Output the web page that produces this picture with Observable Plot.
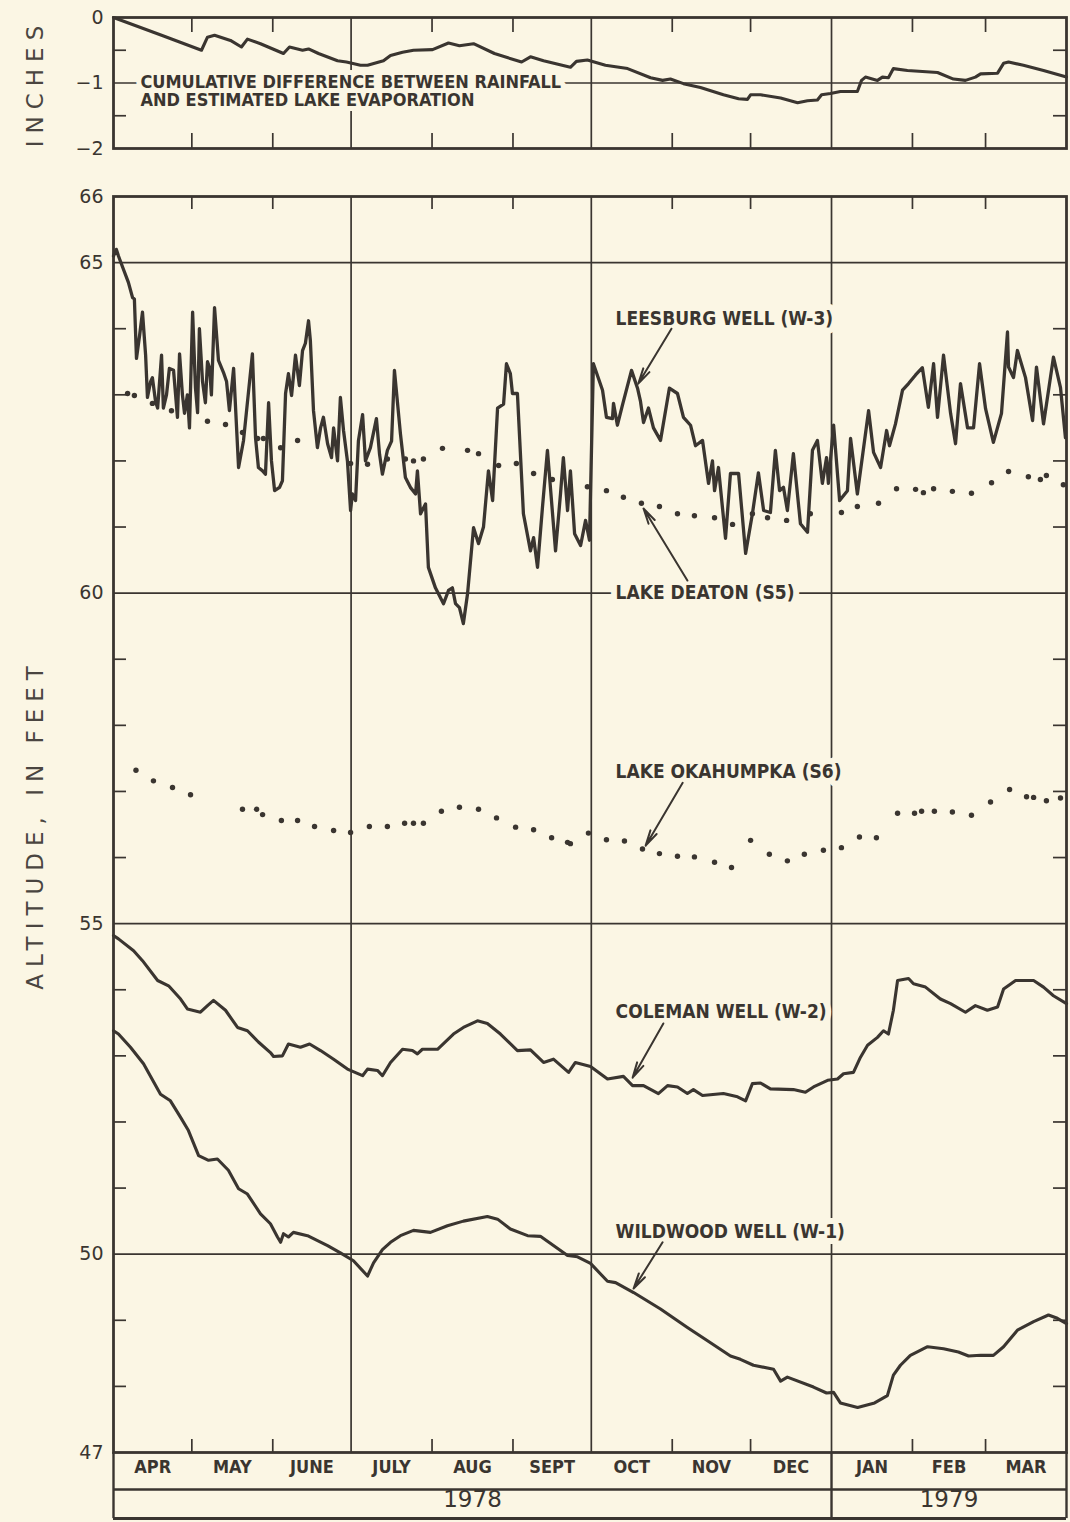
<!DOCTYPE html>
<html><head><meta charset="utf-8">
<script src="https://cdn.jsdelivr.net/npm/d3@7"></script>
<script src="https://cdn.jsdelivr.net/npm/@observablehq/plot@0.6"></script>
<style>
html,body{margin:0;padding:0;background:#fbf6e4;}
#chart{width:1070px;height:1522px;position:relative;background:#fbf6e4;overflow:hidden;}
#chart svg{display:block;}
</style></head><body><div id="chart"></div>
<script>
// ---------- DATA (days counted from 1 April 1978) ----------
const monthNames = ["APR","MAY","JUNE","JULY","AUG","SEPT","OCT","NOV","DEC","JAN","FEB","MAR"];
const yearNames = ["1978","1979"];
const topTickLabels = [0, -1, -2];
const topGrid = [-1];
const topMinor = [-0.5, -1.5];
const mainTickLabels = [66, 65, 60, 55, 50, 47];
const mainGrid = [65, 60, 55, 50];
const topTitle = "INCHES";
const mainTitle = "ALTITUDE, IN FEET";

// Cumulative difference between rainfall and estimated lake evaporation (inches)
const cumDay = [0,18.4,33.7,36.0,38.7,44.8,49.0,51.3,56.3,65.1,67.4,72.4,74.7,78.5,85.8,89.2,94.6,97.3,103.4,106.1,110.7,114.9,122.2,128.3,132.5,137.9,145.9,156.3,159.7,164.7,175.0,177.3,181.5,188.4,196.9,205.7,210.3,213.3,218.3,224.8,233.6,239.4,242.8,244.0,247.8,255.5,262.0,265.8,269.6,271.2,274.6,278.4,284.9,286.5,288.0,292.6,294.5,296.8,298.7,304.1,315.6,321.7,326.3,330.1,332.1,338.6,340.9,342.8,348.5,356.2,365];
const cumIn = [0,-0.27,-0.5,-0.3,-0.27,-0.35,-0.45,-0.33,-0.4,-0.55,-0.45,-0.5,-0.48,-0.55,-0.66,-0.68,-0.73,-0.73,-0.66,-0.58,-0.53,-0.5,-0.49,-0.39,-0.43,-0.4,-0.55,-0.68,-0.6,-0.66,-0.76,-0.67,-0.65,-0.73,-0.78,-0.92,-0.96,-0.94,-1.01,-1.07,-1.18,-1.24,-1.25,-1.18,-1.18,-1.23,-1.3,-1.27,-1.26,-1.18,-1.16,-1.13,-1.13,-0.96,-0.91,-0.96,-0.91,-0.92,-0.78,-0.81,-0.84,-0.94,-0.96,-0.91,-0.86,-0.85,-0.7,-0.68,-0.73,-0.81,-0.91];

// Leesburg well (W-3), feet
const leesDay = [0,1.1,1.9,3.8,5.7,7.3,8.0,8.8,10,11.1,12.3,13.0,14.2,14.9,16.1,16.9,18.4,19.1,20.3,21.4,23.0,24.5,25.3,26.4,27.2,28.3,29.1,30.3,31.4,32.2,32.9,34.1,35.2,36.0,36.8,37.5,38.7,40.2,42.1,43.3,44.4,46.0,47.9,49.8,53.2,54.4,55.5,57.1,58.2,59.4,60.5,61.7,63.6,64.7,65.9,67.0,68.2,69.7,71.2,72.4,73.5,74.7,75.4,76.6,78.1,79.3,80.4,82.0,83.5,84.3,85.8,86.9,88.1,89.6,90.8,91.5,92.7,93.8,95.4,96.5,98.4,100.7,101.9,103.0,104.9,106.5,107.6,109.9,111.8,113.7,115.7,116.4,117.6,119.5,120.6,123.3,126.4,128.3,129.8,131.0,132.5,134.0,135.6,137.9,139.8,141.7,143.6,145.2,147.1,149.4,150.5,152.0,152.8,154.7,157.0,159.7,160.9,162.4,164.3,166.2,169.3,171.2,172.3,173.9,175.0,176.6,178.9,180.8,182.3,183.8,187.3,188.8,191.1,191.5,193.0,194.9,198.4,200.7,201.8,203.0,204.9,206.8,209.5,212.9,216.0,218.3,221.0,222.9,225.6,227.9,229.4,230.2,231.7,234.4,236.3,239.4,242.1,244.7,247.0,249.0,251.6,253.5,255.1,256.6,258.1,260.4,263.1,265.8,267.7,269.6,271.5,273.1,273.8,275.8,278.1,281.1,282.3,284.9,289.2,291.1,293.8,296.1,297.2,299.5,302.2,304.5,307.2,309.8,312.1,314.1,315.6,317.9,320.6,322.5,324.4,327.1,329.4,331.7,334.0,337.0,340.1,342.4,342.8,344.7,346.2,349.3,352.0,353.5,356.2,360.0,362.7,364.6];
const leesFt = [65.1,65.2,65.1,64.9,64.7,64.47,64.45,63.55,63.9,64.25,63.6,62.96,63.2,63.26,62.9,62.8,63.6,62.8,63.0,63.4,63.37,62.66,63.62,63.0,62.72,63.0,62.5,64.25,63.1,62.73,64.0,63.2,62.88,63.5,63.41,63.0,64.32,63.52,63.34,63.2,62.76,63.4,61.9,62.31,63.62,62.35,61.9,61.85,61.8,62.88,62.0,61.55,61.6,61.7,63.02,63.32,62.99,63.6,63.14,63.67,63.78,64.12,63.82,62.76,62.2,62.5,62.66,62.26,62.05,62.5,62.0,62.96,62.46,62.0,61.25,61.5,61.4,62.3,62.7,62.0,62.2,62.64,62.1,61.8,62.16,62.3,63.37,62.41,61.75,61.6,61.5,61.85,61.2,61.35,60.39,60.08,59.84,60.04,60.08,59.84,59.78,59.54,59.99,60.99,60.75,61.0,61.85,61.4,62.8,62.86,63.47,63.32,63.02,63.02,61.2,60.64,60.84,60.39,61.3,62.16,60.64,61.5,62.05,61.25,61.85,60.9,60.72,61.1,60.8,63.47,63.07,62.66,62.64,62.87,62.54,62.84,63.37,63.1,62.91,62.58,62.8,62.5,62.31,63.1,63.02,62.66,62.54,62.23,62.31,61.66,62.0,61.55,61.9,60.83,61.81,61.81,60.6,61.2,61.82,61.25,61.22,62.16,61.55,61.6,61.25,62.11,61.05,60.92,62.16,62.31,61.66,62.05,61.66,62.54,61.4,61.55,62.34,61.5,62.76,62.13,61.9,62.46,62.23,62.56,63.07,63.17,63.3,63.41,62.81,63.47,62.66,63.6,62.72,62.26,63.17,62.5,62.5,63.47,62.79,62.28,62.72,63.95,63.42,63.26,63.67,63.26,62.61,63.42,62.56,63.57,63.11,62.35];

// Lake Deaton (S5), feet
const deatonDay = [5.4,8.0,14.9,22.2,36.0,42.9,49.4,55.2,57.4,64.0,70.5,90.8,97.3,104.9,111.8,114.9,118.7,126.0,135.6,139.8,147.5,154.3,160.9,168.1,181.5,188.8,195.3,202.2,209.1,216.0,222.5,230.2,237.1,244.7,250.5,257.8,266.9,278.8,284.9,293.0,299.9,307.2,310.2,314.1,321.3,328.6,336.3,342.8,350.4,355.0,357.3,363.8];
const deatonFt = [63.02,62.99,62.87,62.76,62.6,62.55,62.43,62.34,62.34,62.2,62.31,61.96,61.95,62.03,62.03,62.0,62.03,62.19,62.16,62.11,61.93,61.96,61.81,61.72,61.61,61.55,61.45,61.36,61.31,61.2,61.17,61.14,61.04,61.2,61.14,61.1,61.2,61.22,61.31,61.36,61.58,61.57,61.52,61.58,61.54,61.51,61.67,61.84,61.76,61.72,61.78,61.64];

// Lake Okahumpka (S6), feet
const okaDay = [8.6,15.3,22.6,29.5,49.4,54.8,57.1,64.3,70.5,77.0,84.3,90.8,98.0,104.9,111.5,114.9,118.7,125.6,132.5,139.8,146.7,154.0,160.9,167.8,173.9,175.0,181.9,188.8,195.7,202.6,209.1,216.0,222.5,230.2,236.7,244.0,251.2,258.1,264.6,271.9,278.8,285.7,292.2,300.3,306.8,309.5,314.4,321.3,328.6,335.9,343.2,349.7,352.4,357.3,362.7];
const okaFt = [57.32,57.16,57.06,56.95,56.73,56.73,56.65,56.56,56.56,56.47,56.41,56.38,56.47,56.47,56.52,56.52,56.52,56.7,56.76,56.73,56.6,56.46,56.42,56.3,56.23,56.21,56.37,56.27,56.25,56.13,56.06,56.02,56.01,55.93,55.85,56.26,56.05,55.95,56.05,56.11,56.15,56.31,56.3,56.67,56.67,56.7,56.7,56.69,56.64,56.84,57.03,56.92,56.91,56.86,56.9];

// Coleman well (W-2), feet
const coleDay = [0,1.9,7.7,11.1,16.9,21.1,25.7,28.3,33.3,36.0,38.3,42.9,47.5,51.3,55.5,60.1,61.3,64.7,67.0,71.6,75.1,79.3,84.3,89.6,95.4,97.3,101.1,103.0,106.1,110.7,114.5,116.4,118.3,124.1,130.2,134.0,139.4,143.2,148.2,154.7,159.7,164.7,168.5,174.3,176.9,182.7,189.2,195.3,198.8,203.0,208.7,212.2,216.0,219.8,222.1,225.6,233.6,239.0,242.1,244.7,247.8,251.6,260.4,265.0,268.1,273.5,277.3,279.6,283.4,286.1,288.8,292.6,294.9,296.8,298.7,300.3,304.5,306.4,311.0,316.7,320.6,326.3,330.1,334.7,338.6,340.9,345.5,352.4,356.2,360.0,365];
const coleFt = [54.82,54.77,54.59,54.44,54.14,54.06,53.86,53.71,53.66,53.76,53.84,53.69,53.43,53.38,53.21,53.05,52.99,53.0,53.18,53.13,53.18,53.08,52.95,52.8,52.7,52.8,52.78,52.7,52.9,53.1,53.08,53.03,53.1,53.1,53.33,53.43,53.53,53.49,53.33,53.08,53.09,52.9,52.95,52.75,52.9,52.84,52.65,52.69,52.55,52.55,52.43,52.55,52.53,52.43,52.49,52.4,52.43,52.38,52.32,52.58,52.59,52.5,52.49,52.45,52.53,52.63,52.65,52.73,52.75,52.98,53.16,53.28,53.38,53.33,53.69,54.14,54.17,54.09,54.04,53.86,53.79,53.66,53.76,53.69,53.74,54.01,54.14,54.14,54.04,53.91,53.79];

// Wildwood well (W-1), feet
const wildDay = [0,1.9,6.5,11.5,18.0,21.8,25.7,28.7,32.6,36.4,39.8,44.0,47.9,51.3,56.3,60.1,62.8,64.0,65.1,67.0,68.9,74.3,82.0,86.9,91.9,97.3,99.6,103.0,106.1,109.9,114.9,121.4,127.9,134.0,143.2,147.1,152.0,158.6,163.5,168.5,173.9,177.7,182.7,189.2,192.3,199.2,209.5,219.8,227.5,236.3,240.1,245.1,252.8,255.5,258.1,268.1,273.1,275.8,278.4,285.0,291.5,296.4,298.7,301.4,305.2,311.8,317.9,323.6,327.5,332.1,337.0,340.9,346.2,352.4,358.1,361.5,365];
const wildFt = [53.38,53.33,53.13,52.88,52.42,52.32,52.07,51.87,51.49,51.42,51.44,51.27,50.99,50.91,50.61,50.46,50.26,50.18,50.31,50.26,50.33,50.28,50.13,50.02,49.9,49.67,49.87,50.07,50.18,50.28,50.36,50.33,50.43,50.5,50.57,50.53,50.38,50.28,50.27,50.13,49.98,49.96,49.86,49.59,49.57,49.42,49.17,48.89,48.69,48.46,48.41,48.32,48.26,48.08,48.14,47.99,47.9,47.91,47.75,47.68,47.75,47.86,48.17,48.32,48.47,48.6,48.57,48.52,48.46,48.47,48.47,48.6,48.85,48.98,49.08,49.03,48.95];

// Annotations: label text, label anchor (day, value), arrow from (day, value) to (day, value)
const labelNames = ["LEESBURG WELL (W-3)","LAKE DEATON (S5)","LAKE OKAHUMPKA (S6)","COLEMAN WELL (W-2)","WILDWOOD WELL (W-1)"];
const labelDay = [192.3,192.3,192.3,192.3,192.3];
const labelFt = [64.15,60.0,57.29,53.66,50.33];
const arrowFromDay = [213.7,219.8,218.0,210.6,210.3];
const arrowFromFt = [64.0,60.19,57.13,53.49,50.18];
const arrowToDay = [201.0,203.0,203.8,198.8,199.2];
const arrowToFt = [63.17,61.28,56.18,52.67,49.48];
const topNoteText = "CUMULATIVE DIFFERENCE BETWEEN RAINFALL\nAND ESTIMATED LAKE EVAPORATION";
const topNoteDay = 10.3;
const topNoteIn = -0.985;

// ---------- BUILD ----------
const START = new Date(Date.UTC(1978,3,1));
const END = new Date(Date.UTC(1979,3,1));
const JAN = new Date(Date.UTC(1979,0,1));
const dayToDate = d => new Date(+START + d*864e5);
const zip = (ds, vs) => ds.map((d,i) => ({date: dayToDate(d), v: vs[i]}));

const cum = zip(cumDay, cumIn);
const lees = zip(leesDay, leesFt);
const deaton = zip(deatonDay, deatonFt);
const oka = zip(okaDay, okaFt);
const cole = zip(coleDay, coleFt);
const wild = zip(wildDay, wildFt);

const monthStarts = d3.utcMonth.range(START, END);
const months = monthStarts.map((m,i) => ({date: new Date((+m + +d3.utcMonth.offset(m,1))/2), name: monthNames[i]}));
const inner = monthStarts.slice(1);
const major = inner.filter(m => m.getUTCMonth() % 3 === 0);
const minor = inner.filter(m => m.getUTCMonth() % 3 !== 0);
const years = [
  {date: new Date((+START + +JAN)/2), name: yearNames[0]},
  {date: new Date((+JAN + +END)/2), name: yearNames[1]}
];
const labels = labelNames.map((t,i) => ({text: t, date: dayToDate(labelDay[i]), v: labelFt[i]}));
const arrows = labelNames.map((t,i) => ({x1: dayToDate(arrowFromDay[i]), y1: arrowFromFt[i], x2: dayToDate(arrowToDay[i]), y2: arrowToFt[i]}));
const topNotes = [{text: topNoteText, date: dayToDate(topNoteDay), v: topNoteIn}];

const INK = "#3a3530";
const BG = "#fbf6e4";
const W = 1070, ML = 113, MR = 4;
const frameW = W - ML - MR;
const topH = 165, topMT = 17, topMB = 17;
const mainH = 1357, mainMT = 31, mainMB = 70;
const TICK = 13;
const letterFont = "'Liberation Sans Narrow','DejaVu Sans Condensed','Arial Narrow',sans-serif";
const numFont = "'DejaVu Sans',Verdana,sans-serif";
const titleFont = "'DejaVu Sans',Verdana,sans-serif";
const fmt = d => d < 0 ? "\u2212" + Math.abs(d) : String(d);

const minorMain = d3.range(48, 66).filter(v => !mainGrid.includes(v));

const topPlot = Plot.plot({
  width: W, height: topH, marginLeft: ML, marginRight: MR, marginTop: topMT, marginBottom: topMB,
  style: {background: "transparent", overflow: "visible"},
  x: {type: "utc", domain: [START, END], axis: null},
  y: {domain: [-2, 0], axis: null},
  marks: [
    Plot.ruleY(topGrid, {stroke: INK, strokeWidth: 1.7}),
    Plot.ruleX(major, {stroke: INK, strokeWidth: 1.7}),
    Plot.ruleX(minor, {stroke: INK, strokeWidth: 1.7, insetBottom: topH - topMT - topMB - 15}),
    Plot.ruleX(minor, {stroke: INK, strokeWidth: 1.7, insetTop: topH - topMT - topMB - 15}),
    Plot.ruleY(topMinor, {stroke: INK, strokeWidth: 1.7, insetRight: frameW - TICK}),
    Plot.ruleY(topMinor, {stroke: INK, strokeWidth: 1.7, insetLeft: frameW - TICK}),
    Plot.text(topNotes, {x: "date", y: "v", text: "text", textAnchor: "start", lineAnchor: "middle", lineHeight: 1.0,
      fill: INK, stroke: BG, strokeWidth: 10, fontFamily: letterFont, fontWeight: "bold", fontSize: 18,
      dy: 9}),
    Plot.line(cum, {x: "date", y: "v", stroke: INK, strokeWidth: 3.1, strokeLinejoin: "round"}),
    Plot.frame({stroke: INK, strokeWidth: 2.8}),
    Plot.text(topTickLabels, {y: d => d, text: fmt, frameAnchor: "left", textAnchor: "end", dx: -10,
      fill: INK, fontFamily: numFont, fontSize: 19}),
    Plot.text([topTitle], {frameAnchor: "left", textAnchor: "middle", rotate: -90, dx: -78, fill: "#4a4540",
      fontFamily: titleFont, fontSize: 23})
  ]
});

const mainPlot = Plot.plot({
  width: W, height: mainH, marginLeft: ML, marginRight: MR, marginTop: mainMT, marginBottom: mainMB,
  style: {background: "transparent", overflow: "visible"},
  x: {type: "utc", domain: [START, END], axis: null},
  y: {domain: [47, 66], axis: null},
  marks: [
    Plot.ruleY(mainGrid, {stroke: INK, strokeWidth: 1.7}),
    Plot.ruleX(major, {stroke: INK, strokeWidth: 1.7}),
    Plot.ruleX(minor, {stroke: INK, strokeWidth: 1.7, insetBottom: mainH - mainMT - mainMB - TICK}),
    Plot.ruleX(minor, {stroke: INK, strokeWidth: 1.7, insetTop: mainH - mainMT - mainMB - TICK}),
    Plot.ruleY(minorMain, {stroke: INK, strokeWidth: 1.7, insetRight: frameW - TICK}),
    Plot.ruleY(minorMain, {stroke: INK, strokeWidth: 1.7, insetLeft: frameW - TICK}),
    Plot.text(labels, {x: "date", y: "v", text: "text", textAnchor: "start", fill: INK, stroke: BG, strokeWidth: 12,
      fontFamily: letterFont, fontWeight: "bold", fontSize: 19}),
    Plot.arrow(arrows, {x1: "x1", y1: "y1", x2: "x2", y2: "y2", stroke: INK, strokeWidth: 2, headLength: 12, headAngle: 26}),
    Plot.dot(deaton, {x: "date", y: "v", r: 2.7, fill: INK, stroke: null}),
    Plot.dot(oka, {x: "date", y: "v", r: 2.7, fill: INK, stroke: null}),
    Plot.line(lees, {x: "date", y: "v", stroke: INK, strokeWidth: 3.3, strokeLinejoin: "round"}),
    Plot.line(cole, {x: "date", y: "v", stroke: INK, strokeWidth: 3.1, strokeLinejoin: "round"}),
    Plot.line(wild, {x: "date", y: "v", stroke: INK, strokeWidth: 3.1, strokeLinejoin: "round"}),
    Plot.frame({stroke: INK, strokeWidth: 2.8}),
    // bottom label table
    Plot.ruleY([47], {dy: 37, stroke: INK, strokeWidth: 2.4}),
    Plot.ruleY([47], {dy: 66, stroke: INK, strokeWidth: 2.8}),
    Plot.ruleX([START, JAN, END], {y1: 47, y2: 46, stroke: INK, strokeWidth: 2.4}),
    Plot.text(months, {x: "date", text: "name", frameAnchor: "bottom", dy: 20, fill: INK,
      fontFamily: letterFont, fontWeight: "bold", fontSize: 18}),
    Plot.text(years, {x: "date", text: "name", frameAnchor: "bottom", dy: 54, fill: INK,
      fontFamily: numFont, fontSize: 23}),
    Plot.text(mainTickLabels, {y: d => d, text: fmt, frameAnchor: "left", textAnchor: "end", dx: -10,
      fill: INK, fontFamily: numFont, fontSize: 19}),
    Plot.text([mainTitle], {frameAnchor: "left", textAnchor: "middle", rotate: -90, dx: -78, fill: "#4a4540",
      fontFamily: titleFont, fontSize: 23})
  ]
});

// widen the letter spacing of the two axis titles (Plot's text mark has no letterSpacing option)
for (const svg of [topPlot, mainPlot]) {
  svg.querySelectorAll("text").forEach(t => {
    if (t.textContent === topTitle || t.textContent === mainTitle) t.style.letterSpacing = "7px";
  });
}

const chart = document.getElementById("chart");
chart.appendChild(topPlot);
chart.appendChild(mainPlot);
</script>
</body></html>
